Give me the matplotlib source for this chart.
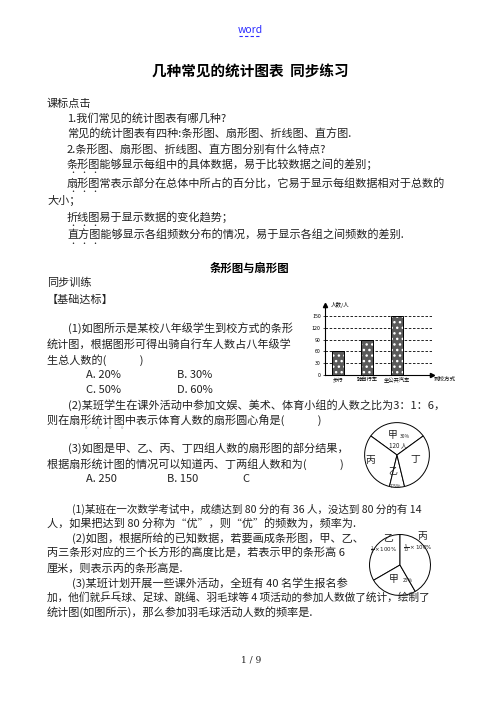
import matplotlib
matplotlib.use('Agg')
from matplotlib import pyplot as plt

plt.rcParams['font.family'] = ['Noto Sans CJK SC', 'DejaVu Sans']

# bar chart data (到校方式)
bar_labels = ['步行', '骑自行车', '坐公共汽车']
bar_values = [60, 90, 150]
bar_yticks = [0, 30, 60, 90, 120, 150]

# pie 1 (甲 乙 丙 丁), counter-clockwise from 36 deg
pie1_labels = ['甲', '丙', '乙', '丁']
pie1_values = [30, 31.25, 7.5, 31.25]

# pie 2 (乙 甲 丙), counter-clockwise from 90 deg
pie2_labels = ['乙', '甲', '丙']
pie2_values = [1/3, 1/4, 5/12]

W, H = 500, 706
fig = plt.figure(figsize=(W/100, H/100), dpi=100)
fig.patch.set_facecolor('white')

page = fig.add_axes([0, 0, 1, 1])
page.set_xlim(0, W)
page.set_ylim(H, 0)
page.axis('off')
page.set_zorder(10)   # page text on top of the small charts

txt = '#222222'

def t(x, y, s, size=8, **kw):
    kw.setdefault('color', txt)
    kw.setdefault('va', 'center')
    kw.setdefault('ha', 'left')
    page.text(x, y, s, fontsize=size, **kw)

# header
t(250, 30, 'word', 7.5, color='#2b2bff', ha='center')
page.plot([239, 261], [36, 36], color='#2b2bff', lw=0.8, ls=(0, (3, 2)))
t(250, 72, '几种常见的统计图表  同步练习', 10.5, ha='center', weight='bold', color='black')
t(250, 268, '条形图与扇形图', 8.2, ha='center', weight='bold', color='black')

gap = '\u3000\u3000\u3000'
lines = [
    (47, 104, '课标点击'),
    (67, 118, '1.我们常见的统计图表有哪几种?'),
    (67, 134, '常见的统计图表有四种:条形图、扇形图、折线图、直方图.'),
    (67, 149, '2.条形图、扇形图、折线图、直方图分别有什么特点?'),
    (67, 164, '条形图能够显示每组中的具体数据，易于比较数据之间的差别；'),
    (67, 183, '扇形图常表示部分在总体中所占的百分比，它易于显示每组数据相对于总数的'),
    (47, 200, '大小；'),
    (67, 217, '折线图易于显示数据的变化趋势；'),
    (67, 235, '直方图能够显示各组频数分布的情况，易于显示各组之间频数的差别.'),
    (47, 283, '同步训练'),
    (47, 300, '【基础达标】'),
    (68, 328, '(1)如图所示是某校八年级学生到校方式的条形'),
    (47, 344, '统计图，根据图形可得出骑自行车人数占八年级学'),
    (47, 360, '生总人数的(' + gap + ')'),
    (86, 375, 'A. 20%'), (177, 375, 'B. 30%'),
    (86, 390, 'C. 50%'), (177, 390, 'D. 60%'),
    (68, 405, '(2)某班学生在课外活动中参加文娱、美术、体育小组的人数之比为3：1：6，'),
    (47, 420, '则在扇形统计图中表示体育人数的扇形圆心角是(' + gap + ')'),
    (68, 448, '(3)如图是甲、乙、丙、丁四组人数的扇形图的部分结果，'),
    (47, 464, '根据扇形统计图的情况可以知道丙、丁两组人数和为(' + gap + ')'),
    (86, 479, 'A. 250'), (167, 479, 'B. 150'), (242, 479, 'C'),
    (72, 509, '(1)某班在一次数学考试中，成绩达到 80 分的有 36 人，没达到 80 分的有 14', 7.6),
    (47, 523, '人，如果把达到 80 分称为“优”，则“优”的频数为，频率为.'),
    (72, 538, '(2)如图，根据所给的已知数据，若要画成条形图，甲、乙、'),
    (47, 553, '丙三条形对应的三个长方形的高度比是，若表示甲的条形高 6'),
    (47, 568, '厘米，则表示丙的条形高是.'),
    (72, 583, '(3)某班计划开展一些课外活动，全班有 40 名学生报名参'),
    (47, 597, '加，他们就乒乓球、足球、跳绳、羽毛球等 4 项活动的参加人数做了统计，绘制了', 7.7),
    (47, 612, '统计图(如图所示)，那么参加羽毛球活动人数的频率是.'),
]
for ln in lines:
    t(*ln)

# emphasis dots under the first three characters
for y in [173, 192, 226, 244]:
    for k in range(3):
        t(72.5 + k*11.1, y, '·', 5, ha='center')
for x in [86, 98, 110, 122]:
    t(x, 430, '°', 5, ha='center', color='#777777')

t(251, 660, '1 / 9', 6.5, ha='center', family='DejaVu Serif')

# ---- bar chart
bx = fig.add_axes([325/W, 1-375/H, 107/W, 70/H])
bx.patch.set_alpha(0)
pos = range(len(bar_values))
bx.bar(pos, bar_values, width=0.41, color='#5a5a5a', edgecolor='white',
       hatch='...', lw=0, zorder=3)
bx.bar(pos, bar_values, width=0.41, fill=False, edgecolor='black', lw=0.7, zorder=4)
bx.set_xlim(-0.44, 3.2)
bx.set_ylim(0, 178)
bx.set_yticks(bar_yticks)
bx.set_xticks(list(pos))
bx.set_xticklabels(bar_labels, fontsize=3.8)
bx.tick_params(axis='y', labelsize=3.8, length=1.5, width=0.5, pad=1.5)
bx.tick_params(axis='x', length=0, pad=1.5)
bx.yaxis.grid(True, ls=(0, (3, 2)), color='black', lw=0.6)
bx.set_axisbelow(True)
for s in ['top', 'right']:
    bx.spines[s].set_visible(False)
for s in ['left', 'bottom']:
    bx.spines[s].set_linewidth(0.8)
bx.plot(1, 0, '>k', ms=3, transform=bx.transAxes, clip_on=False)
bx.plot(0, 1, '^k', ms=3, transform=bx.transAxes, clip_on=False)
bx.text(0.05, 1.0, '人数/人', fontsize=4, transform=bx.transAxes, va='center')
bx.text(1.02, -0.07, '到校方式', fontsize=4, transform=bx.transAxes, va='center')

# ---- pie 1
p1 = fig.add_axes([363/W, 1-489/H, 68/W, 68/H])
p1.pie(pie1_values, startangle=36, counterclock=True,
       colors=['white']*4, wedgeprops=dict(edgecolor='black', lw=0.7))
p1.set_xlim(-1.05, 1.05)
p1.set_ylim(-1.05, 1.05)
t(388, 435, '甲', 7)
t(400, 436, '30%', 3.5)
t(389, 445, '120 人', 4.5)
t(365, 460, '丙', 7)
t(410, 459, '丁', 7)
t(393, 472, '乙', 6.5, ha='center')
t(395, 486, '7.5%', 3.5, ha='center')

# ---- pie 2
p2 = fig.add_axes([368/W, 1-597/H, 64/W, 64/H])
p2.pie(pie2_values, startangle=90, counterclock=True,
       colors=['white']*3, wedgeprops=dict(edgecolor='black', lw=0.7))
p2.set_xlim(-1.05, 1.05)
p2.set_ylim(-1.05, 1.05)
t(388, 537, '乙', 7, ha='center')
t(384, 550, r'$\frac{1}{3}\times100\%$', 4, ha='center')
t(422, 536, '丙', 7, ha='center')
t(418, 548, r'$\frac{5}{12}\times100\%$', 4, ha='center')
t(394, 579, '甲', 7, ha='center')
t(408, 580, '25%', 3.5, ha='center')

fig.savefig('out.png', dpi=100, facecolor='white')
